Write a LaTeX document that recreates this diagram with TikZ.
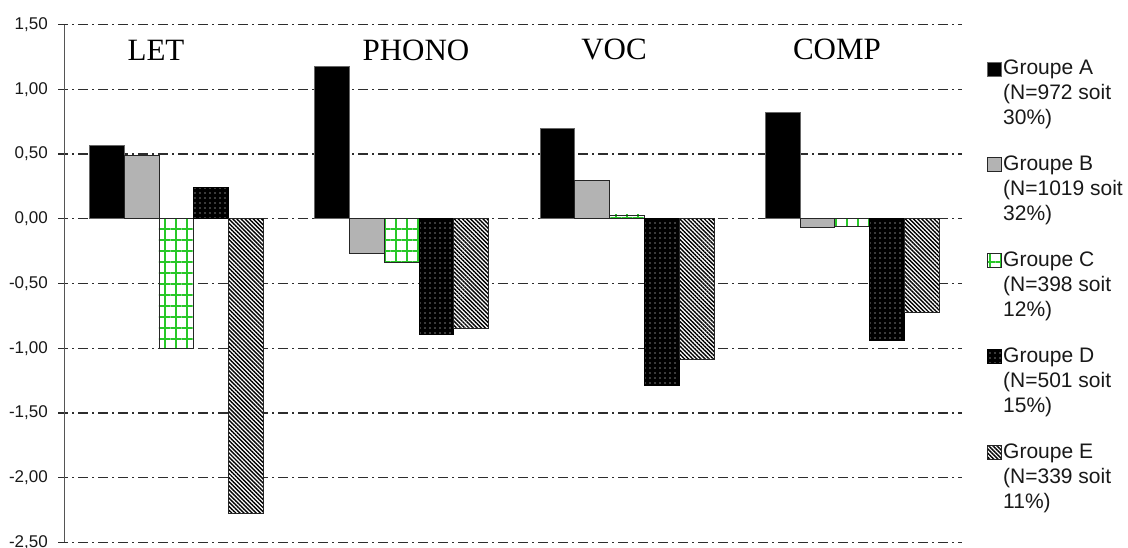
\documentclass[tikz,border=0pt]{standalone}
\usepackage{fontspec}
\setmainfont{Liberation Serif}
\newfontfamily\arialf{Liberation Sans}
\usetikzlibrary{patterns.meta}
\definecolor{gridc}{RGB}{45,45,45}
\definecolor{axisc}{RGB}{85,85,85}
\definecolor{greenc}{RGB}{40,200,40}
\definecolor{grayb}{RGB}{179,179,179}
\newcommand\yz{218.8}
\newcommand\yu{129.4}
\newcommand\mybar[3]{\path[#1] (#2,\yz) rectangle ({#2+34.8},{\yz-\yu*(#3)});}
\begin{document}
\begin{tikzpicture}[x=1pt,y=-1pt,
  gridline/.style={gridc, line width=1.3pt, dash pattern=on 10pt off 4pt on 2pt off 4pt},
  ylab/.style={font=\arialf\fontsize{17}{20}\selectfont, anchor=east, inner sep=0pt, text=black!90},
  catlab/.style={font=\fontsize{31}{36}\selectfont, anchor=base, inner sep=0pt},
  leglab/.style={font=\arialf\fontsize{21}{25}\selectfont, anchor=base west, inner sep=0pt, text=black!90},
  barA/.style={fill=black, draw=black!60, line width=0.8pt},
  barB/.style={fill=grayb, draw=black!85, line width=0.8pt},
  barC/.style={fill=white,
    postaction={pattern={Lines[angle=0,distance=11pt,line width=1.2pt]}, pattern color=greenc},
    postaction={pattern={Lines[angle=90,distance=11pt,line width=1.2pt]}, pattern color=greenc},
    postaction={draw=black!85, line width=0.8pt}},
  barD/.style={fill=black,
    postaction={pattern={Dots[distance=5pt,radius=0.65pt]}, pattern color=white},
    postaction={draw=black, line width=0.8pt}},
  barE/.style={fill=white,
    postaction={pattern={Lines[angle=-45,distance=2.9pt,line width=1.4pt]}, pattern color=black},
    postaction={draw=black!85, line width=0.8pt}},
]
\useasboundingbox (0,0) rectangle (1128,548);
\fill[white] (0,0) rectangle (1128,548);

% grid lines and y labels
\foreach \v/\t [count=\i] in {1.5/{1,50},1.0/{1,00},0.5/{0,50},0/{0,00},-0.5/{-0,50},-1.0/{-1,00},-1.5/{-1,50},-2.0/{-2,00},-2.5/{-2,50}}{
  \draw[gridline] (58,{\yz-\yu*\v}) -- (962,{\yz-\yu*\v});
  \node[ylab] (yl\i) at (48,{\yz-\yu*\v}) {\t};
}

% LET
\mybar{barA}{89.3}{0.57}
\mybar{barB}{124.1}{0.49}
\mybar{barC}{158.9}{-1.00}
\mybar{barD}{193.7}{0.24}
\mybar{barE}{228.5}{-2.28}
% PHONO
\mybar{barA}{314.6}{1.18}
\mybar{barB}{349.4}{-0.27}
\mybar{barC}{384.2}{-0.34}
\mybar{barD}{419.0}{-0.89}
\mybar{barE}{453.8}{-0.85}
% VOC
\mybar{barA}{539.9}{0.70}
\mybar{barB}{574.7}{0.30}
\mybar{barC}{609.5}{0.03}
\mybar{barD}{644.3}{-1.29}
\mybar{barE}{679.1}{-1.09}
% COMP
\mybar{barA}{765.2}{0.82}
\mybar{barB}{800.0}{-0.07}
\mybar{barC}{834.8}{-0.06}
\mybar{barD}{869.6}{-0.94}
\mybar{barE}{904.4}{-0.72}

% axis
\draw[axisc, line width=1.5pt] (64.5,24.7) -- (64.5,542.3);

% category labels
\node[catlab] (cLET) at (156,61) {LET};
\node[catlab] (cPHONO) at (416,61) {PHONO};
\node[catlab] (cVOC) at (614,60) {VOC};
\node[catlab] (cCOMP) at (837,60) {COMP};

% legend
\path[barA] (987,62) rectangle (1001,76);
\node[leglab] (lA1) at (1003,75) {Groupe A};
\node[leglab] (lA2) at (1003,100) {(N=972 soit};
\node[leglab] (lA3) at (1003,125) {30\%)};

\path[barB] (987,157.8) rectangle (1001,171.8);
\node[leglab] (lB1) at (1003,170.8) {Groupe B};
\node[leglab] (lB2) at (1003,195.8) {(N=1019 soit};
\node[leglab] (lB3) at (1003,220.8) {32\%)};

\path[barC] (987,253.6) rectangle (1001,267.6);
\node[leglab] (lC1) at (1003,266.6) {Groupe C};
\node[leglab] (lC2) at (1003,291.6) {(N=398 soit};
\node[leglab] (lC3) at (1003,316.6) {12\%)};

\path[barD] (987,349.4) rectangle (1001,363.4);
\node[leglab] (lD1) at (1003,362.4) {Groupe D};
\node[leglab] (lD2) at (1003,387.4) {(N=501 soit};
\node[leglab] (lD3) at (1003,412.4) {15\%)};

\path[barE] (987,445.2) rectangle (1001,459.2);
\node[leglab] (lE1) at (1003,458.2) {Groupe E};
\node[leglab] (lE2) at (1003,483.2) {(N=339 soit};
\node[leglab] (lE3) at (1003,508.2) {11\%)};
\end{tikzpicture}
\end{document}
